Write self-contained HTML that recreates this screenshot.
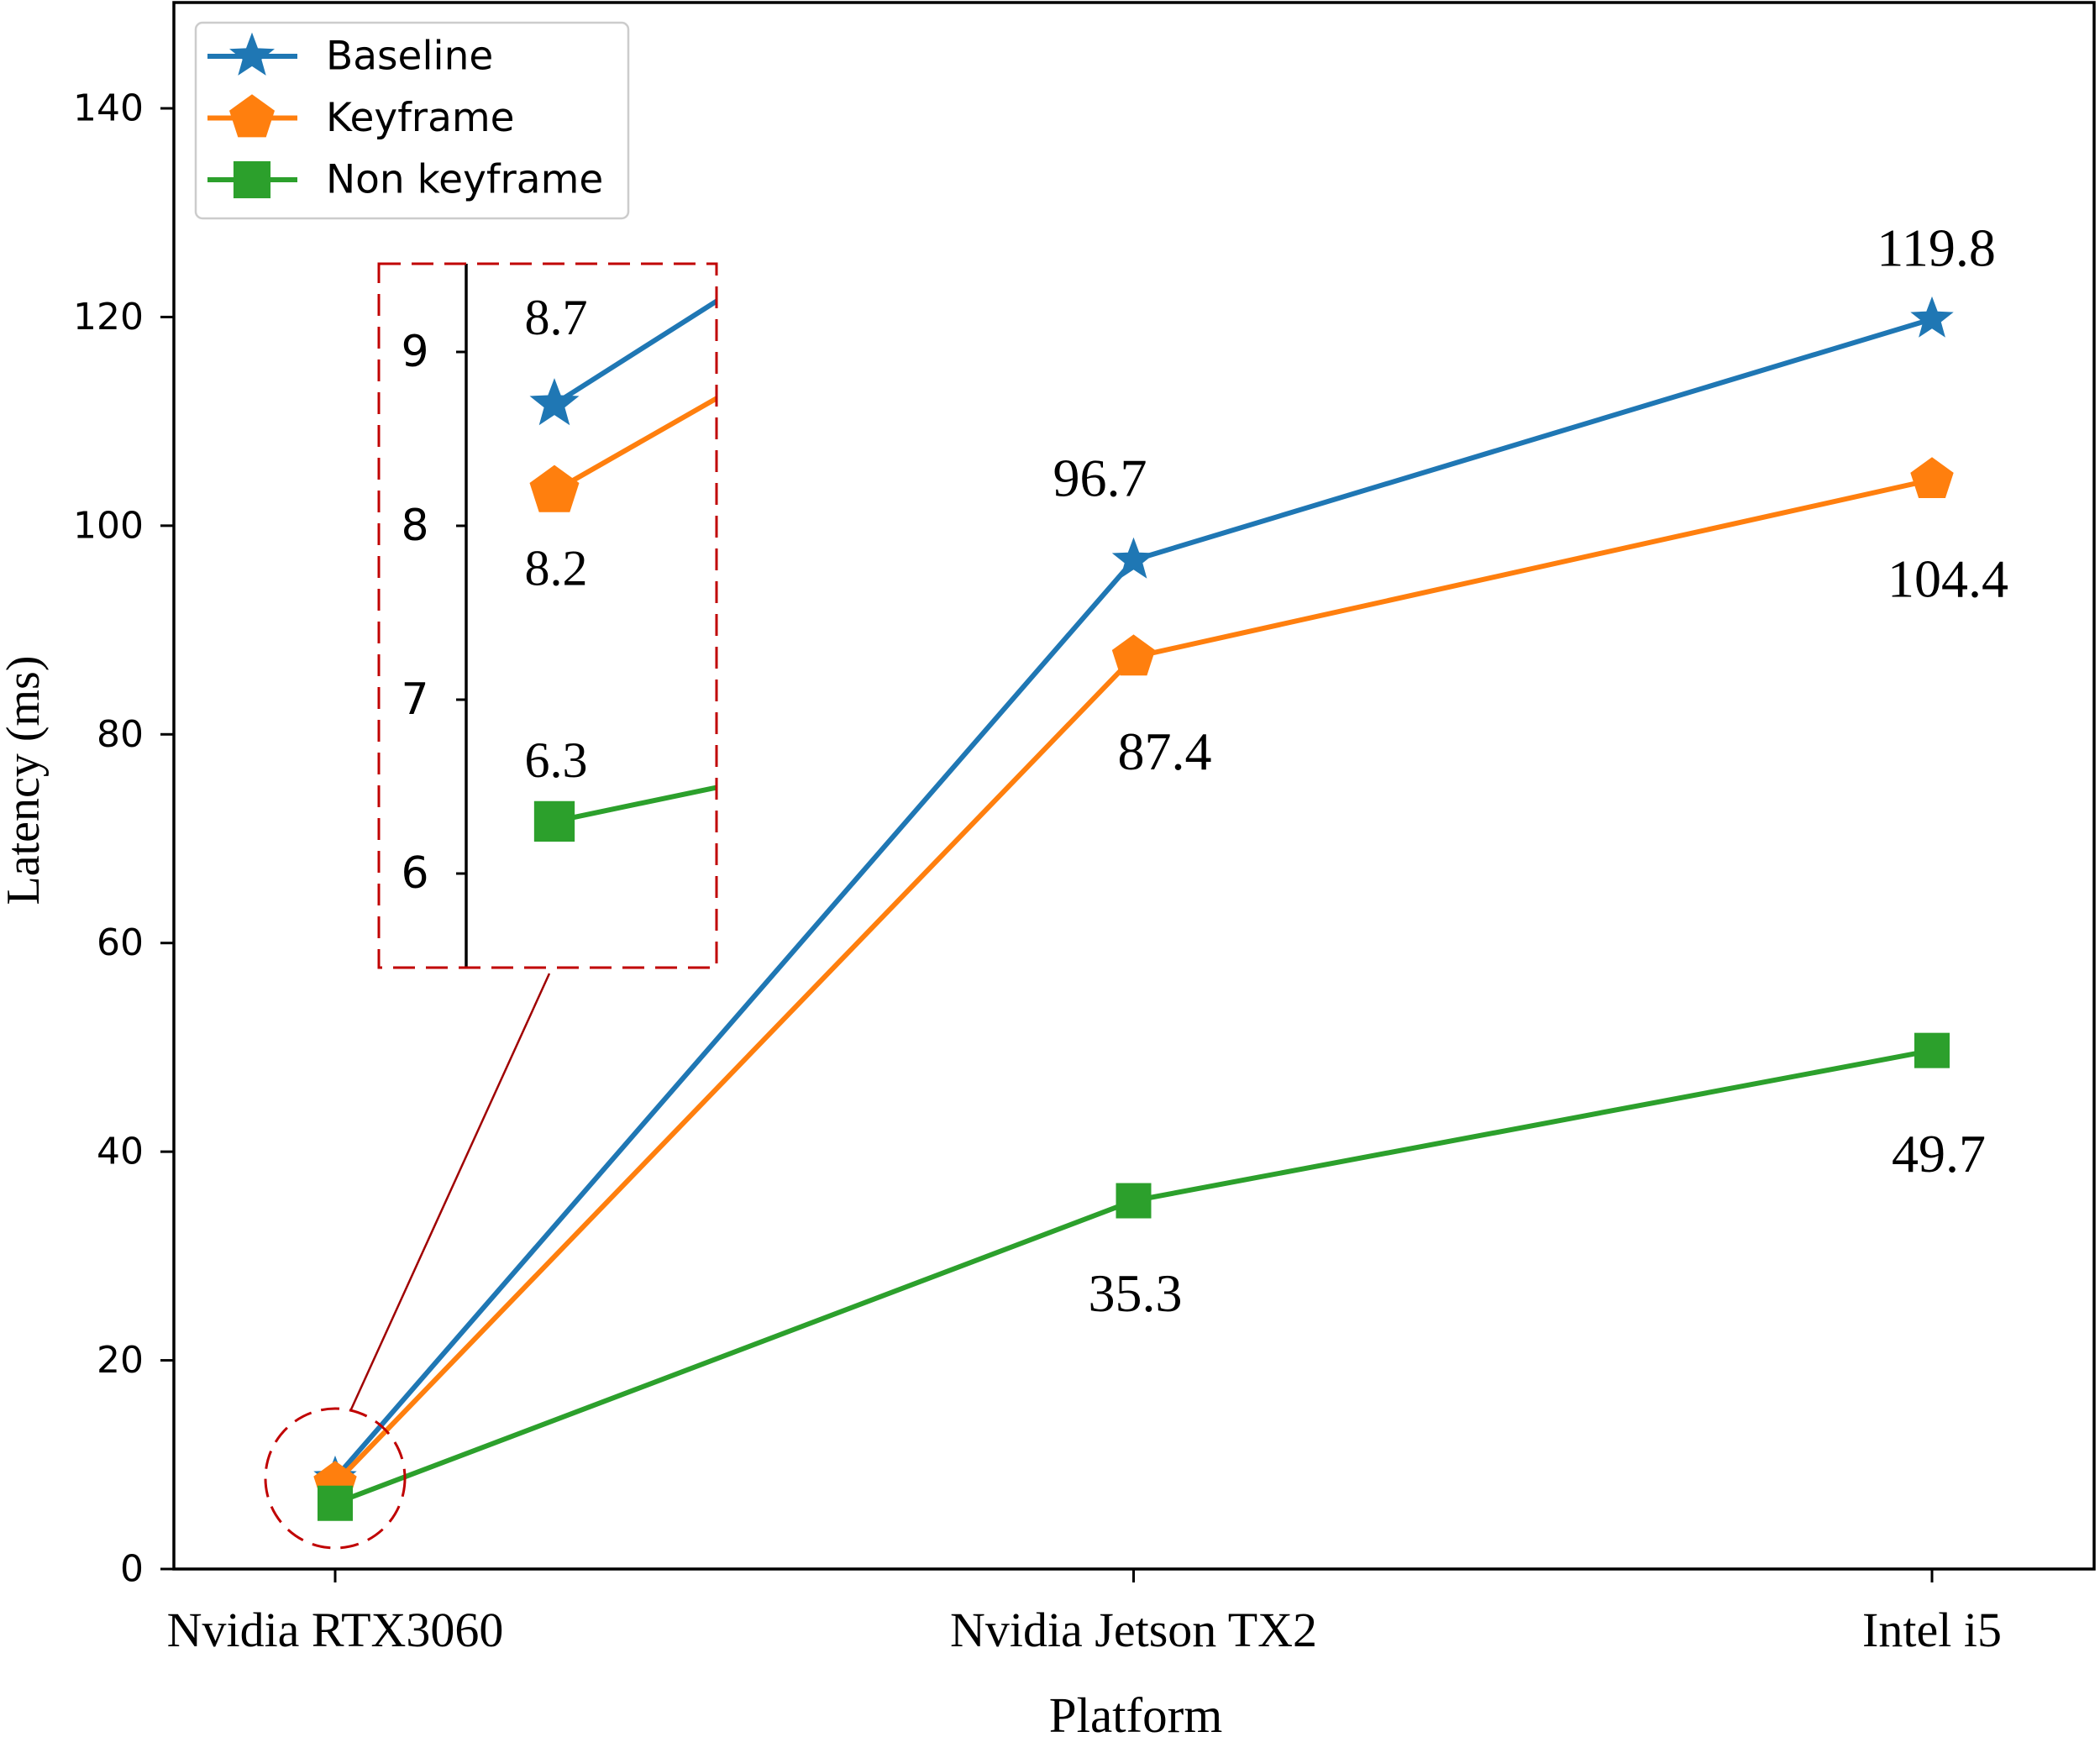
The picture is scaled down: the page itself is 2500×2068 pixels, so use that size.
<!DOCTYPE html>
<html><head><meta charset="utf-8"><style>html,body{margin:0;padding:0;background:#fff}svg{display:block}</style></head>
<body>
<svg id="chart" xmlns="http://www.w3.org/2000/svg" width="2500" height="2068" viewBox="0 0 2500 2068"></svg>
<script>
const categories = ["Nvidia RTX3060", "Nvidia Jetson TX2", "Intel i5"];
const baseline = [8.7, 96.7, 119.8];
const keyframe = [8.2, 87.4, 104.4];
const nonKeyframe = [6.3, 35.3, 49.7];
const yTicks = [0, 20, 40, 60, 80, 100, 120, 140];
const insetTicks = [6, 7, 8, 9];
const seriesNames = ["Baseline", "Keyframe", "Non keyframe"];

const NS = "http://www.w3.org/2000/svg";
const svg = document.getElementById('chart');
function mk(tag, attrs, parent, text){
  const e = document.createElementNS(NS, tag);
  for (const k in attrs) e.setAttribute(k, attrs[k]);
  if (text !== undefined) e.textContent = text;
  (parent || svg).appendChild(e);
  return e;
}
const L=207,R=2493,T=3,B=1868;
const y = v => 1868 - v*(1868-129)/140;
const x = i => 399 + i*950.5;
const colors = ["#1f77b4","#ff7f0e","#2ca02c"];
const series = [baseline, keyframe, nonKeyframe];
const serif = '"Liberation Serif", serif', sans = '"DejaVu Sans", "Liberation Sans", sans-serif';

function star(cx,cy,r){let p=[];for(let i=0;i<10;i++){const a=-Math.PI/2+i*Math.PI/5;const rr=i%2?r*0.42:r;p.push((cx+rr*Math.cos(a)).toFixed(1)+","+(cy+rr*Math.sin(a)).toFixed(1));}return p.join(" ");}
function pent(cx,cy,r){let p=[];for(let i=0;i<5;i++){const a=-Math.PI/2+i*2*Math.PI/5;p.push((cx+r*Math.cos(a)).toFixed(1)+","+(cy+r*Math.sin(a)).toFixed(1));}return p.join(" ");}
function marker(s,cx,cy,scale,parent){
  let e;
  if(s===0) e=mk('polygon',{points:star(cx,cy,27*scale),fill:colors[0]},parent);
  else if(s===1) e=mk('polygon',{points:pent(cx,cy,27*scale),fill:colors[1]},parent);
  else e=mk('rect',{x:cx-21*scale,y:cy-21*scale,width:42*scale,height:42*scale,fill:colors[2]},parent);
  return e;
}

const frame = mk('rect',{x:L,y:T,width:R-L,height:B-T,fill:'none',stroke:'#000','stroke-width':3.5});



yTicks.forEach(v=>{
  const t = mk('line',{x1:L-16,x2:L,y1:y(v),y2:y(v),stroke:'#000','stroke-width':3});
  
  
  const lb = mk('text',{x:L-36,y:y(v),'text-anchor':'end','dominant-baseline':'central','font-family':sans,'font-size':44},null,String(v));
  
  
});
categories.forEach((c,i)=>{
  const t = mk('line',{x1:x(i),x2:x(i),y1:B,y2:B+16,stroke:'#000','stroke-width':3});
  
  
  const lb = mk('text',{x:x(i),y:1960,'text-anchor':'middle','font-family':serif,'font-size':58},null,c);
  
  
});
const xt = mk('text',{x:1352,y:2062,'text-anchor':'middle','font-family':serif,'font-size':59},null,'Platform');


const yt = mk('text',{x:0,y:0,transform:'translate(28,929) rotate(-90)','text-anchor':'middle','dominant-baseline':'central','font-family':serif,'font-size':56},null,'Latency (ms)');



series.forEach((d,s)=>{
  const pl = mk('polyline',{points:d.map((v,i)=>x(i)+","+y(v)).join(" "),fill:'none',stroke:colors[s],'stroke-width':6});
  
  
  d.forEach((v,i)=>{
    const m = marker(s,x(i),y(v),1);
    
    
  });
});

const annOff = [[null,[-40,-98],[5,-85]],[null,[37,112],[19,118]],[null,[2,110],[8,123]]];
series.forEach((d,s)=>{
  d.forEach((v,i)=>{
    if(i===0) return;
    const o = annOff[s][i];
    const a = mk('text',{x:x(i)+o[0],y:y(v)+o[1],'text-anchor':'middle','dominant-baseline':'central','font-family':serif,'font-size':64},null,v.toFixed(1));
    
    
  });
});

const circ = mk('ellipse',{cx:399,cy:1760,rx:83,ry:83,fill:'none',stroke:'#c00000','stroke-width':3,'stroke-dasharray':'22 12'});


const con = mk('line',{x1:654,y1:1159,x2:418,y2:1678,stroke:'#a00000','stroke-width':2.5});



const IL=451,IR=853,IT=314,IB=1152, IAX=555;
const iy = v => 419 + (9-v)*207;
const ix = i => 660 + i*28700;
const g = mk('g',{});


mk('rect',{x:IL,y:IT,width:IR-IL,height:IB-IT,fill:'#fff',stroke:'none'},g);
const clip = mk('clipPath',{id:'ic'},g); mk('rect',{x:IAX,y:IT,width:IR-IAX,height:IB-IT},clip);
const gi = mk('g',{'clip-path':'url(#ic)'},g);
series.forEach((d,s)=>{
  const pl = mk('polyline',{points:d.map((v,i)=>ix(i)+","+iy(v)).join(" "),fill:'none',stroke:colors[s],'stroke-width':6},gi);
  
  
  const m = marker(s,ix(0),iy(d[0]),1.15,gi);
  
  
});
mk('line',{x1:IAX,x2:IAX,y1:IT,y2:IB,stroke:'#000','stroke-width':3.5},g);
insetTicks.forEach(v=>{
  mk('line',{x1:IAX-12,x2:IAX,y1:iy(v),y2:iy(v),stroke:'#000','stroke-width':3},g);
  const lb = mk('text',{x:494,y:iy(v),'text-anchor':'middle','dominant-baseline':'central','font-family':sans,'font-size':52},g,String(v));
  
  
});
const insetOff=[-103,+92,-73];
series.forEach((d,s)=>{
  const a = mk('text',{x:ix(0)+2,y:iy(d[0])+insetOff[s],'text-anchor':'middle','dominant-baseline':'central','font-family':serif,'font-size':60},g,d[0].toFixed(1));
  
  
});
mk('rect',{x:IL,y:IT,width:IR-IL,height:IB-IT,fill:'none',stroke:'#c00000','stroke-width':3,'stroke-dasharray':'26 13'},g);

const lg = mk('g',{});


mk('rect',{x:233,y:27,width:515,height:233,rx:8,fill:'#fff',stroke:'#ccc','stroke-width':2.5},lg);
seriesNames.forEach((n,s)=>{
  const yy = 67 + s*73.5;
  const e = mk('g',{},lg);
  
  
  mk('line',{x1:247,x2:354,y1:yy,y2:yy,stroke:colors[s],'stroke-width':6},e);
  marker(s,300,yy,1.05,e);
  mk('text',{x:388,y:yy,'dominant-baseline':'central','font-family':sans,'font-size':47},e,n);
});
</script>
</body></html>
